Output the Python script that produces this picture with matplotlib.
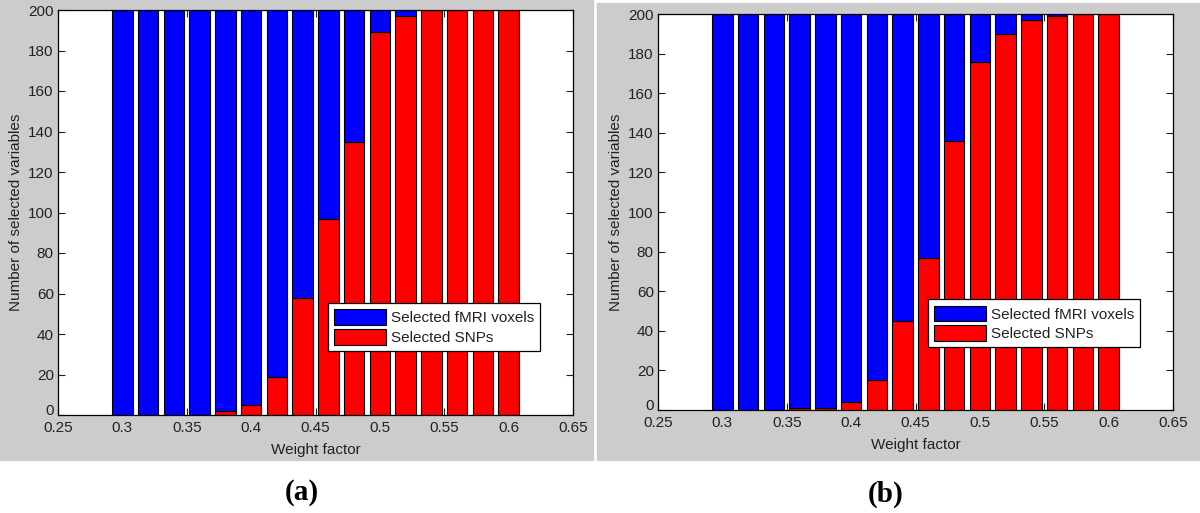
import numpy as np
import matplotlib.pyplot as plt
import matplotlib.transforms as mtransforms
from matplotlib.patches import Rectangle

plt.rcParams['font.family'] = ['Liberation Sans', 'DejaVu Sans']

# Weight factors and number of selected SNPs (out of 200 variables)
weight_factor = [0.30, 0.32, 0.34, 0.36, 0.38, 0.40, 0.42, 0.44,
                 0.46, 0.48, 0.50, 0.52, 0.54, 0.56, 0.58, 0.60]
snps_a = [0, 0, 0, 0, 2, 5, 19, 58, 97, 135, 189, 197, 200, 200, 200, 200]
snps_b = [0, 0, 0, 1, 1, 4, 15, 45, 77, 136, 176, 190, 197, 199, 200, 200]
total_vars = 200

x_ticks = [0.25, 0.3, 0.35, 0.4, 0.45, 0.5, 0.55, 0.6, 0.65]
x_tick_labels = ['0.25', '0.3', '0.35', '0.4', '0.45', '0.5', '0.55', '0.6', '0.65']
y_ticks = [0, 20, 40, 60, 80, 100, 120, 140, 160, 180, 200]

W, H = 1200, 513
fig = plt.figure(figsize=(W / 100, H / 100), dpi=100)
fig.patch.set_facecolor('white')

# gray matlab figure backgrounds
gray = '#cccccc'
fig.patches.append(Rectangle((0, 1 - 460 / H), 593 / W, 460 / H,
                             transform=fig.transFigure, color=gray, zorder=-10))
fig.patches.append(Rectangle((597 / W, 1 - 460 / H), 603 / W, 457 / H,
                             transform=fig.transFigure, color=gray, zorder=-10))


def draw_panel(rect, snps, caption, caption_x, caption_y):
    ax = fig.add_axes(rect)
    ax.set_facecolor('white')
    snps = np.array(snps)
    fmri = total_vars - snps
    ax.bar(weight_factor, snps, width=0.016, color='#ff0000', edgecolor='black',
           linewidth=0.8, label='Selected SNPs', zorder=2)
    ax.bar(weight_factor, fmri, width=0.016, bottom=snps, color='#0000ff',
           edgecolor='black', linewidth=0.8, label='Selected fMRI voxels', zorder=2)
    ax.set_xlim(0.25, 0.65)
    ax.set_ylim(0, 200)
    ax.set_xticks(x_ticks)
    ax.set_xticklabels(x_tick_labels)
    ax.set_yticks(y_ticks)
    ax.tick_params(direction='in', top=True, right=True, length=5, width=0.8,
                   labelsize=11, colors='#222222')
    ax.tick_params(axis='x', pad=4)
    ax.tick_params(axis='y', pad=3)
    # nudge the "0" label up a little so it sits just above "0.25"
    zero_lbl = ax.get_yticklabels()[0]
    zero_lbl.set_transform(zero_lbl.get_transform() +
                           mtransforms.ScaledTranslation(0, 4 / 72, fig.dpi_scale_trans))
    for s in ax.spines.values():
        s.set_linewidth(0.9)
        s.set_zorder(3)
    ax.set_xlabel('Weight factor', fontsize=11, color='#222222', labelpad=6)
    ax.set_ylabel('Number of selected variables', fontsize=11, color='#222222', labelpad=4)

    handles, labels = ax.get_legend_handles_labels()
    leg = ax.legend(handles[::-1], labels[::-1], loc='lower right',
                    bbox_to_anchor=(0.936, 0.158), fontsize=11, frameon=True,
                    fancybox=False, edgecolor='black', framealpha=1,
                    handlelength=3.4, handleheight=1.2, handletextpad=0.3,
                    borderpad=0.4, labelspacing=0.25, borderaxespad=0)
    leg.get_frame().set_linewidth(0.9)
    for t in leg.get_texts():
        t.set_color('#222222')

    fig.text(caption_x, caption_y, caption, ha='center', va='center',
             fontsize=21, fontweight='bold', family='Liberation Serif')
    return ax


draw_panel([58 / W, 1 - 415 / H, 515 / W, 405 / H], snps_a, '(a)', 302 / W, 1 - 493 / H)
draw_panel([658 / W, 1 - 410 / H, 515 / W, 396 / H], snps_b, '(b)', 886 / W, 1 - 494 / H)

fig.savefig('out.png', dpi=100)
